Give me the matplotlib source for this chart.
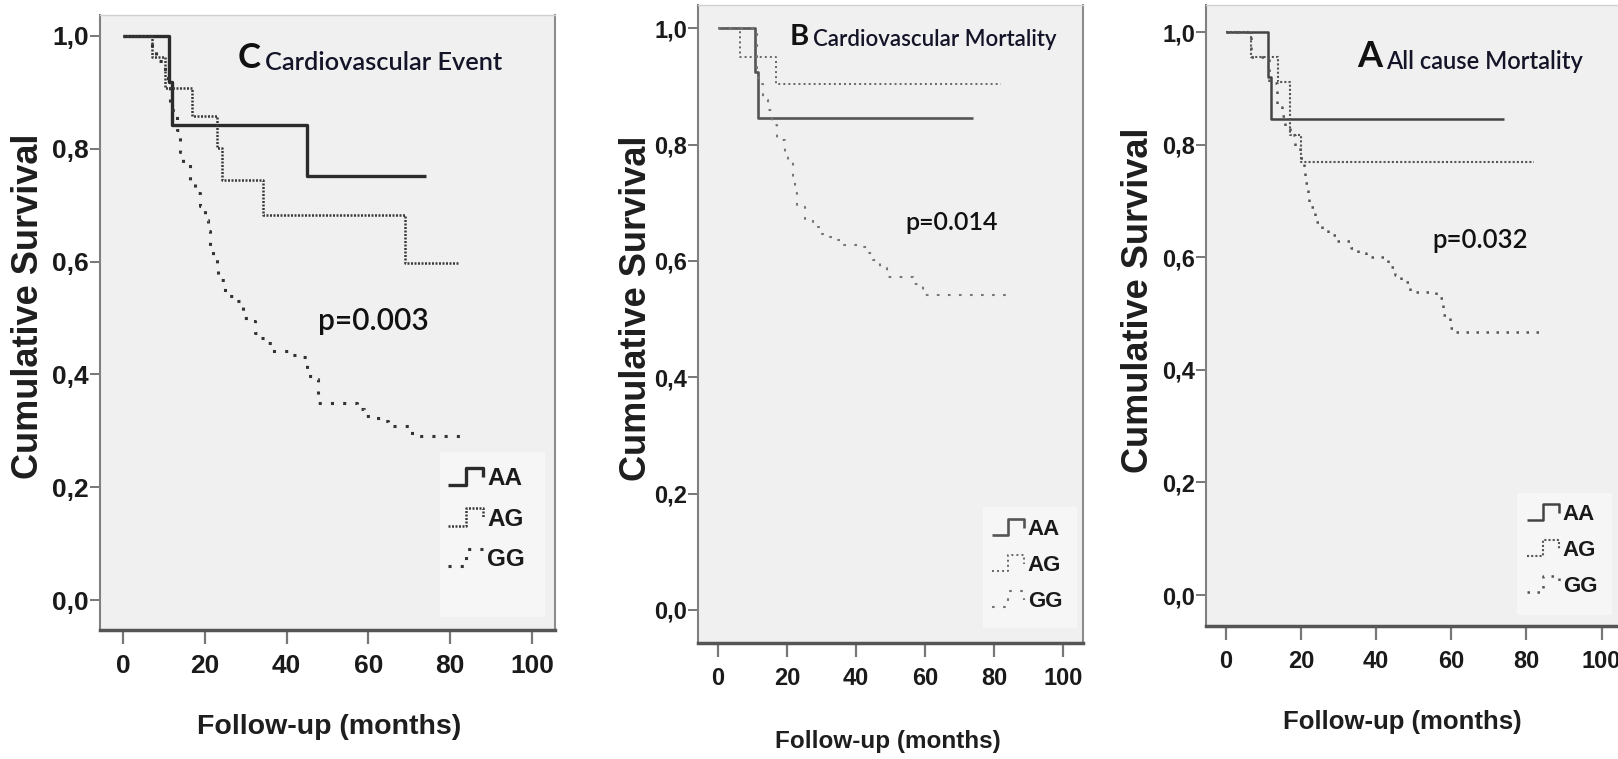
import numpy as np
import matplotlib
matplotlib.use("Agg")
import matplotlib.pyplot as plt
from matplotlib.lines import Line2D
from matplotlib.patches import Rectangle
from matplotlib.legend_handler import HandlerLine2D

SANS = ['Liberation Sans', 'DejaVu Sans']
TITLE_FONT = ['Lato', 'Liberation Sans', 'DejaVu Sans']

groups = ['AA', 'AG', 'GG']
x_ticks = [0, 20, 40, 60, 80, 100]
y_ticks = [0.0, 0.2, 0.4, 0.6, 0.8, 1.0]
y_tick_labels = ['0,0', '0,2', '0,4', '0,6', '0,8', '1,0']

# panel C - cardiovascular event (time in months, survival)
c_aa_t = [0, 11.3, 12.1, 45, 74]
c_aa_s = [1, 0.919, 0.842, 0.751, 0.751]
c_ag_t = [0, 7, 10.3, 16.8, 23.1, 24.1, 34.2, 69, 82]
c_ag_s = [1, 0.962, 0.907, 0.858, 0.801, 0.745, 0.683, 0.598, 0.598]
c_gg_t = [0, 7, 8, 10.3, 11.1, 11.5, 13.1, 13.9, 14.7, 16.4, 17.6, 18.8, 20, 20.9,
          21.3, 22.1, 22.9, 23.3, 24.9, 27, 29.4, 31.5, 32.3, 33.5, 34.7, 36.4, 41.2,
          43.3, 44.9, 46.9, 47.8, 57.1, 58.8, 61.2, 63.7, 64.9, 70.6, 84]
c_gg_s = [1, 0.975, 0.955, 0.934, 0.907, 0.869, 0.834, 0.795, 0.775, 0.742, 0.722,
          0.698, 0.674, 0.654, 0.627, 0.609, 0.586, 0.568, 0.539, 0.53, 0.50, 0.494,
          0.474, 0.465, 0.456, 0.441, 0.435, 0.43, 0.397, 0.391, 0.35, 0.338, 0.326,
          0.322, 0.317, 0.309, 0.291, 0.291]

# panel B - cardiovascular mortality
b_aa_t = [0, 10.7, 11.7, 74]
b_aa_s = [1, 0.925, 0.845, 0.845]
b_ag_t = [0, 6.4, 16.8, 82]
b_ag_s = [1, 0.951, 0.905, 0.905]
b_gg_t = [0, 11.2, 11.7, 13.1, 14.6, 15.6, 17, 19.4, 20.4, 21.8, 22.3, 22.8, 25.2,
          27.6, 29.6, 32.5, 34.4, 36.3, 42.1, 43.6, 45, 47, 48.9, 56.6, 58.6, 59.5, 84]
b_gg_s = [1, 0.925, 0.905, 0.876, 0.859, 0.833, 0.808, 0.787, 0.773, 0.745, 0.716,
          0.693, 0.67, 0.659, 0.647, 0.641, 0.636, 0.627, 0.624, 0.613, 0.601,
          0.587, 0.573, 0.561, 0.556, 0.541, 0.541]

# panel A - all cause mortality
a_aa_t = [0, 11.1, 12, 74]
a_aa_s = [1, 0.921, 0.845, 0.845]
a_ag_t = [0, 6.8, 13.9, 17, 20, 82]
a_ag_s = [1, 0.956, 0.912, 0.817, 0.770, 0.770]
a_gg_t = [0, 6.8, 11.5, 13.5, 14.8, 15.7, 17, 18.4, 19.7, 20.7, 21, 21.9, 22.2, 23.7,
          25.5, 27.2, 29.4, 33.4, 35.2, 37.4, 43.2, 44.9, 46.7, 48.9, 56, 57.8, 59.6,
          60.5, 84.4]
a_gg_s = [1, 0.956, 0.91, 0.867, 0.85, 0.832, 0.817, 0.796, 0.776, 0.755, 0.731,
          0.713, 0.69, 0.663, 0.648, 0.639, 0.628, 0.616, 0.607, 0.601, 0.583, 0.568,
          0.556, 0.539, 0.527, 0.497, 0.474, 0.468, 0.468]


class StepHandler(HandlerLine2D):
    # little step glyph like the SPSS legend
    def create_artists(self, legend, orig_handle, xdescent, ydescent,
                       width, height, fontsize, trans):
        xs = np.array([0.0, 0.5, 0.5, 1.0, 1.0]) * width - xdescent
        ys = np.array([0.0, 0.0, 1.0, 1.0, 0.45]) * height - ydescent
        line = Line2D(xs, ys)
        self.update_prop(line, orig_handle, legend)
        line.set_transform(trans)
        return [line]


W, H = 1618, 759
fig = plt.figure(figsize=(W / 100, H / 100), dpi=100)


def px_axes(left, top, right, bottom):
    return fig.add_axes([left / W, 1 - bottom / H, (right - left) / W, (bottom - top) / H])


def draw_panel(ax, curves, styles, xlim, ylim, letter, title, title_xy,
               letter_size, title_size, pval, p_xy, p_size, tick_size,
               ylab_xy, xlab_xy, xlab_size, leg_box, leg_xy, leg_size, leg_space):
    ax.set_facecolor('#f0f0f0')
    handles = []
    for (t, s), st in zip(curves, styles):
        ln, = ax.step(t, s, where='post', color=st[0], lw=st[1], linestyle=st[2],
                      solid_capstyle='butt', dash_capstyle='butt')
        handles.append(ln)
    ax.set_xlim(*xlim)
    ax.set_ylim(*ylim)
    ax.set_xticks(x_ticks)
    ax.set_yticks(y_ticks)
    ax.set_yticklabels(y_tick_labels)
    ax.tick_params(axis='x', direction='out', length=10, width=1.6, color='#777777', pad=7)
    ax.tick_params(axis='y', direction='out', length=7, width=1.4, color='#777777', pad=1)
    for lab in ax.get_xticklabels() + ax.get_yticklabels():
        lab.set_family(SANS)
        lab.set_weight('bold')
        lab.set_size(tick_size)
        lab.set_color('#1a1a1a')
    ax.spines['left'].set_color('#808080')
    ax.spines['left'].set_linewidth(1.5)
    ax.spines['right'].set_color('#8c8c8c')
    ax.spines['right'].set_linewidth(1.5)
    ax.spines['bottom'].set_color('#555555')
    ax.spines['bottom'].set_linewidth(2.5)
    ax.spines['top'].set_color('#d0d0d0')
    ax.spines['top'].set_linewidth(1)

    ax.set_ylabel('Cumulative Survival', family=SANS, weight='bold', size=26, color='#1e1e1e')
    ax.yaxis.set_label_coords(*ylab_xy)
    ax.yaxis.label.set_va('center')
    ax.set_xlabel('Follow-up (months)', family=SANS, weight='bold', size=xlab_size,
                  color='#1e1e1e')
    ax.xaxis.set_label_coords(*xlab_xy)
    ax.xaxis.label.set_va('center')

    let = ax.text(title_xy[0], title_xy[1], letter, transform=ax.transAxes,
                  family=TITLE_FONT, weight='bold', size=letter_size, color='#111111',
                  va='baseline')
    ax.annotate(title, xy=(1, 0), xycoords=let, xytext=(3, 0),
                textcoords='offset points', family=TITLE_FONT, weight='semibold',
                size=title_size, color='#141428', va='bottom')
    ax.text(p_xy[0], p_xy[1], pval, transform=ax.transAxes, family=TITLE_FONT,
            weight='semibold', size=p_size, color='#111111', va='baseline')

    # legend background box
    ax.add_patch(Rectangle((leg_box[0], leg_box[1]), leg_box[2] - leg_box[0],
                           leg_box[3] - leg_box[1], transform=ax.transAxes,
                           facecolor='#f6f6f6', edgecolor='none', zorder=3))
    leg = ax.legend(handles, groups, loc='upper left', bbox_to_anchor=leg_xy,
                    borderaxespad=0, borderpad=0, handler_map={Line2D: StepHandler()},
                    prop={'family': SANS, 'weight': 'bold', 'size': leg_size},
                    handlelength=1.45, handleheight=0.75, handletextpad=0.15,
                    labelspacing=leg_space, frameon=False)
    leg.set_zorder(4)
    for txt in leg.get_texts():
        txt.set_color('#1a1a1a')


axC = px_axes(100, 15, 555, 630)
draw_panel(axC,
           [(c_aa_t, c_aa_s), (c_ag_t, c_ag_s), (c_gg_t, c_gg_s)],
           [('#2b2b2b', 2.4, '-'), ('#3a3a3a', 1.8, (0, (0.8, 0.6))),
            ('#333333', 2.2, (0, (1, 3)))],
           (-5.6, 105.6), (-0.053, 1.037),
           'C', 'Cardiovascular Event', (0.303, 0.914), 25, 18.3,
           'p=0.003', (0.479, 0.488), 21.5, 19,
           (-0.158, 0.527), (0.503, -0.158), 20.5,
           (0.747, 0.021, 0.978, 0.289), (0.765, 0.265), 17.5, 0.72)

axB = px_axes(698, 5, 1083, 643)
draw_panel(axB,
           [(b_aa_t, b_aa_s), (b_ag_t, b_ag_s), (b_gg_t, b_gg_s)],
           [('#555555', 1.9, '-'), ('#666666', 1.4, (0, (1, 1.6))),
            ('#777777', 1.5, (0, (1.3, 4)))],
           (-5.8, 105.8), (-0.057, 1.040),
           'B', 'Cardiovascular Mortality', (0.239, 0.937), 21, 16,
           'p=0.014', (0.538, 0.647), 18, 17,
           (-0.161, 0.525), (0.494, -0.155), 17.5,
           (0.740, 0.0235, 0.984, 0.213), (0.764, 0.195), 16, 0.68)

axA = px_axes(1206, 5, 1623, 626)
draw_panel(axA,
           [(a_aa_t, a_aa_s), (a_ag_t, a_ag_s), (a_gg_t, a_gg_s)],
           [('#444444', 1.8, '-'), ('#555555', 1.5, (0, (1, 1))),
            ('#555555', 1.8, (0, (1, 3)))],
           (-5.3, 105.7), (-0.055, 1.048),
           'A', 'All cause Mortality', (0.362, 0.900), 26, 17,
           'p=0.032', (0.542, 0.609), 18.5, 17,
           (-0.161, 0.525), (0.470, -0.155), 18.5,
           (0.746, 0.018, 0.974, 0.214), (0.770, 0.197), 16, 0.68)

fig.savefig('out.png', dpi=100, facecolor='white')
